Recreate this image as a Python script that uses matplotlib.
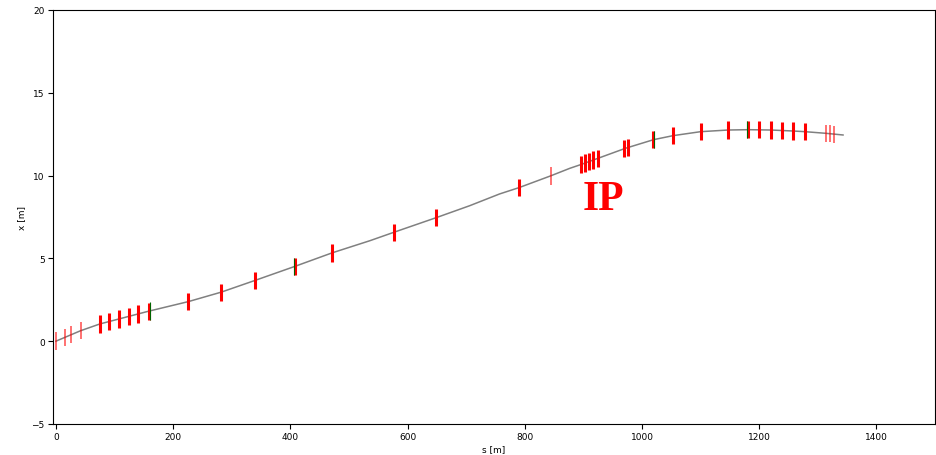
import matplotlib
matplotlib.use("Agg")
import matplotlib.pyplot as plt
import numpy as np

# reference orbit
s_orbit = [0, 42, 75, 157, 226, 282, 339, 408, 471, 536, 577, 649, 706, 757,
           790, 844, 877, 897, 910, 972, 1020, 1053, 1100, 1147, 1181, 1220,
           1258, 1278, 1314, 1343]
x_orbit = [0.0, 0.63, 1.04, 1.80, 2.39, 2.96, 3.66, 4.52, 5.33, 6.07, 6.58,
           7.46, 8.18, 8.89, 9.27, 9.98, 10.44, 10.68, 10.85, 11.65, 12.17,
           12.41, 12.65, 12.75, 12.77, 12.75, 12.69, 12.65, 12.55, 12.45]

# thick red elements
s_thick = [75, 91, 107, 124, 140, 158, 226, 282, 339, 408, 471, 577, 649,
           790, 896.5, 903.3, 910.1, 917, 924.1, 970, 976, 1019, 1053, 1100,
           1147, 1181, 1200, 1220, 1239, 1258, 1278]
# thin light elements
s_thin = [1, 15, 26, 42, 844, 1314, 1321, 1328]
# elements with a green part
s_green = [160, 406, 1020.5, 1179]

half_h = 0.52

fig = plt.figure(figsize=(9.36, 4.56), dpi=100)
ax = fig.add_axes([0.0566, 0.068, 0.9424, 0.908])

ax.plot(s_orbit, x_orbit, color="gray", linewidth=1.1, zorder=2)

xt = np.interp(s_thick, s_orbit, x_orbit)
ax.vlines(s_thick, xt - half_h, xt + half_h, color="red", linewidth=2.2, zorder=3)
xn = np.interp(s_thin, s_orbit, x_orbit)
ax.vlines(s_thin, xn - half_h, xn + half_h, color="red", alpha=0.65,
          linewidth=1.2, zorder=3)
xg = np.interp(s_green, s_orbit, x_orbit)
ax.vlines(s_green, xg - half_h, xg + half_h, color="darkgreen", linewidth=0.8,
          zorder=4)

ax.text(899, 8.0, "IP", color="red", fontsize=30, fontweight="bold",
        family="Liberation Serif", ha="left", va="baseline")

ax.set_xlim(-5, 1500)
ax.set_ylim(-5, 20)
ax.set_xlabel("s [m]", fontsize=6.5, labelpad=2)
ax.set_ylabel("x [m]", fontsize=6.5, labelpad=4)
ax.tick_params(labelsize=6.5, pad=2.5)

fig.savefig("out.png", dpi=100)
